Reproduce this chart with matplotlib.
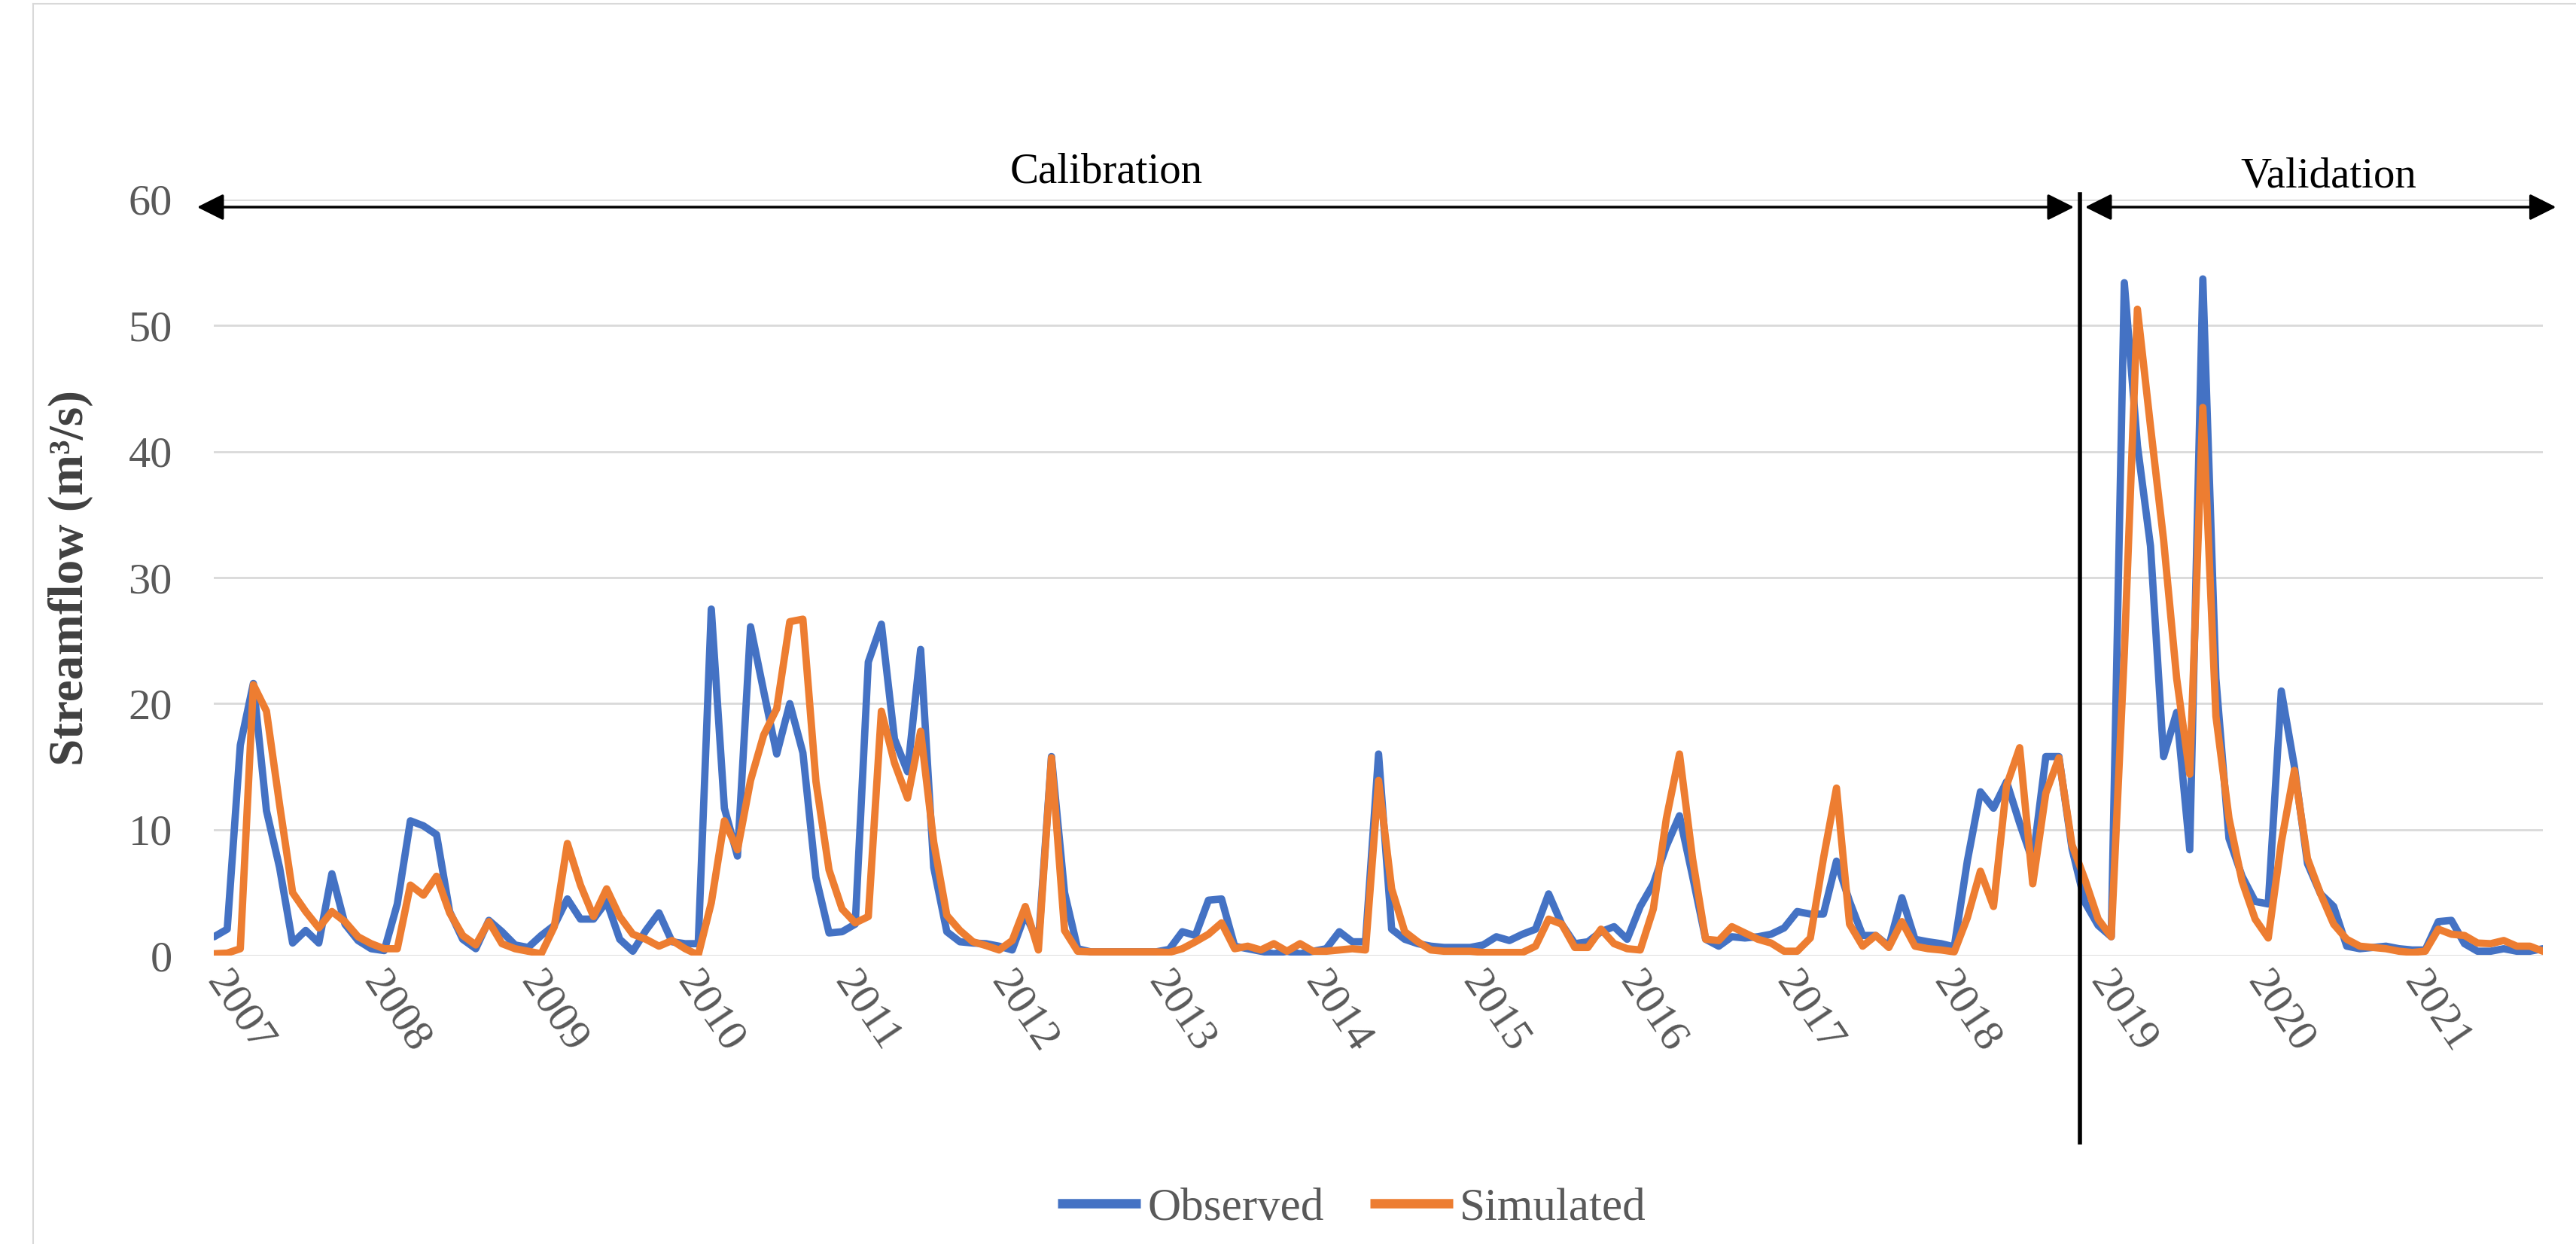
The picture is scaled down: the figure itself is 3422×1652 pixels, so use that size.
import matplotlib
matplotlib.use('Agg')
import matplotlib.pyplot as plt
from matplotlib.transforms import ScaledTranslation

# monthly streamflow, Jan 2007 onwards (m3/s)
observed = [1.5, 2.1, 16.7, 21.6, 11.5, 7.0, 1.0, 2.0, 1.0, 6.5, 2.5, 1.2,
            0.55, 0.4, 4.1, 10.7, 10.3, 9.6, 3.5, 1.3, 0.55, 2.8, 1.9, 0.85,
            0.65, 1.6, 2.4, 4.5, 2.9, 2.9, 4.3, 1.3, 0.35, 2.0, 3.4, 1.1,
            0.95, 0.95, 27.5, 11.7, 7.9, 26.1, 21.0, 16.0, 20.0, 16.1, 6.2, 1.8,
            1.9, 2.5, 23.3, 26.3, 17.2, 14.6, 24.3, 7.0, 1.9, 1.1, 1.0, 0.95,
            0.75, 0.45, 3.3, 1.0, 15.8, 5.0, 0.55, 0.3, 0.3, 0.3, 0.3, 0.3,
            0.3, 0.5, 1.9, 1.6, 4.4, 4.5, 0.75, 0.55, 0.35, 0.15, 0.35, 0.15,
            0.35, 0.55, 1.9, 1.1, 1.1, 16.0, 2.1, 1.3, 0.95, 0.75, 0.65, 0.65,
            0.65, 0.85, 1.5, 1.2, 1.7, 2.1, 4.9, 2.5, 0.95, 1.1, 1.9, 2.3,
            1.3, 3.9, 5.7, 8.7, 11.1, 6.3, 1.3, 0.75, 1.5, 1.4, 1.5, 1.7,
            2.2, 3.5, 3.3, 3.3, 7.5, 4.3, 1.6, 1.6, 0.75, 4.6, 1.3, 1.1,
            0.95, 0.7, 7.5, 13.0, 11.7, 13.8, 10.5, 7.5, 15.8, 15.8, 8.5, 4.2,
            2.4, 1.5, 53.4, 40.5, 32.5, 15.8, 19.3, 8.4, 53.7, 22.0, 9.3, 6.3,
            4.3, 4.1, 21.0, 15.0, 7.3, 4.9, 3.9, 0.75, 0.55, 0.65, 0.75, 0.55,
            0.45, 0.45, 2.7, 2.8, 0.95, 0.35, 0.35, 0.55, 0.35, 0.35, 0.55]

simulated = [0.15, 0.2, 0.55, 21.5, 19.4, 12.0, 5.0, 3.5, 2.2, 3.5, 2.7, 1.5,
             0.95, 0.55, 0.55, 5.6, 4.8, 6.3, 3.4, 1.6, 0.85, 2.7, 0.95, 0.55,
             0.35, 0.15, 2.3, 8.9, 5.6, 3.1, 5.3, 3.1, 1.7, 1.3, 0.75, 1.2,
             0.55, 0.05, 4.2, 10.7, 8.4, 13.9, 17.5, 19.6, 26.5, 26.7, 13.8, 6.8,
             3.7, 2.6, 3.1, 19.4, 15.3, 12.5, 17.8, 9.0, 3.2, 2.0, 1.1, 0.8,
             0.45, 1.2, 3.9, 0.45, 15.7, 2.0, 0.35, 0.3, 0.3, 0.3, 0.3, 0.3,
             0.3, 0.25, 0.55, 1.1, 1.7, 2.6, 0.55, 0.75, 0.45, 0.95, 0.35, 0.95,
             0.35, 0.35, 0.45, 0.55, 0.45, 13.9, 5.3, 1.9, 1.1, 0.45, 0.35, 0.35,
             0.35, 0.25, 0.25, 0.25, 0.25, 0.75, 2.9, 2.5, 0.65, 0.65, 2.1, 0.95,
             0.55, 0.45, 3.7, 10.9, 16.0, 7.7, 1.3, 1.2, 2.3, 1.8, 1.3, 1.0,
             0.35, 0.35, 1.4, 7.7, 13.3, 2.5, 0.75, 1.6, 0.65, 2.7, 0.75, 0.55,
             0.45, 0.3, 3.0, 6.7, 3.9, 13.5, 16.5, 5.7, 12.9, 15.7, 8.8, 6.0,
             2.9, 1.5, 24.0, 51.3, 42.0, 33.0, 22.0, 14.4, 43.5, 19.0, 10.9, 5.9,
             2.9, 1.4, 9.0, 14.7, 7.7, 4.9, 2.5, 1.3, 0.75, 0.65, 0.55, 0.35,
             0.25, 0.35, 2.1, 1.7, 1.6, 1.0, 0.95, 1.2, 0.75, 0.75, 0.35]

years = [str(y) for y in range(2007, 2022)]
year_pos = [12 * k for k in range(len(years))]
split = 142.6   # calibration / validation boundary (month index)

serif = 'Liberation Serif'
grey = '#595959'

fig = plt.figure(figsize=(34.23, 16.52), dpi=100)
ax = fig.add_axes([0.0831, 0.2318, 0.9038, 0.6078])

x = list(range(len(observed)))
ax.plot(x, observed, color='#4472C4', lw=7, label='Observed',
        solid_joinstyle='round', solid_capstyle='round')
ax.plot(x, simulated, color='#ED7D31', lw=7, label='Simulated',
        solid_joinstyle='round', solid_capstyle='round')

ax.set_xlim(0, len(observed) - 1)
ax.set_ylim(0, 60)
ax.set_yticks(range(0, 61, 10))
ax.yaxis.grid(True, color='#D9D9D9', lw=2)
ax.set_axisbelow(True)
for s in ax.spines.values():
    s.set_visible(False)
ax.tick_params(axis='y', length=0, pad=40, labelsize=42, labelcolor=grey)
ax.tick_params(axis='x', length=0, pad=8, labelsize=42, labelcolor=grey)
for lab in ax.get_yticklabels():
    lab.set_fontfamily(serif)

ax.set_xticks(year_pos)
ax.set_xticklabels(years, rotation=-56, ha='left', va='top',
                   rotation_mode='anchor', fontfamily=serif)
shift = ScaledTranslation(22 / 100, 0, fig.dpi_scale_trans)
for lab in ax.get_xticklabels():
    lab.set_transform(lab.get_transform() + shift)

fig.text(94 / 3423, 0.5357, 'Streamflow (m³/s)', rotation=90, fontsize=47,
         fontweight='bold', fontfamily=serif, color='#404040',
         ha='center', va='center')

# boundary line and period arrows
ax.plot([split, split], [-14.8, 60.4], color='black', lw=4, clip_on=False)
arrow = dict(arrowstyle='<|-|>,head_length=0.8,head_width=0.4',
             mutation_scale=27, color='black', lw=2.5, shrinkA=0, shrinkB=0)
ax.annotate('', xy=(-1.3, 59.4), xytext=(split - 0.45, 59.4),
            arrowprops=arrow, annotation_clip=False)
ax.annotate('', xy=(split + 0.4, 59.4), xytext=(179.0, 59.4),
            arrowprops=arrow, annotation_clip=False)
ax.text(68.2, 62.2, 'Calibration', fontsize=41, fontfamily=serif,
        ha='center', va='center', clip_on=False)
ax.text(161.6, 61.8, 'Validation', fontsize=41, fontfamily=serif,
        ha='center', va='center', clip_on=False)

leg = fig.legend(loc='center', bbox_to_anchor=(0.5247, 0.0285), ncol=2,
                 frameon=False, handlelength=1.8, handletextpad=0.15,
                 columnspacing=1.0, prop={'family': serif, 'size': 44})
for t in leg.get_texts():
    t.set_color(grey)
for h in leg.get_lines():
    h.set_linewidth(9)
    h.set_solid_capstyle('butt')

# chart area border
fig.add_artist(plt.Line2D([44 / 3423, 44 / 3423], [0, 1 - 5 / 1652],
                          transform=fig.transFigure, color='#D9D9D9', lw=1.5))
fig.add_artist(plt.Line2D([44 / 3423, 1], [1 - 5 / 1652, 1 - 5 / 1652],
                          transform=fig.transFigure, color='#D9D9D9', lw=1.5))

plt.savefig('out.png', dpi=100, facecolor='white')
plt.close()
